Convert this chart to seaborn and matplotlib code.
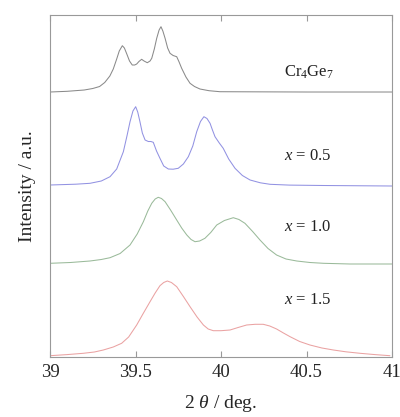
import numpy as np
import pandas as pd
import matplotlib
matplotlib.use("Agg")
import matplotlib.pyplot as plt
import seaborn as sns

# ---- data (2theta in deg, intensity above each trace's baseline, a.u.) ----
cr4ge7_x = [39.0, 39.1, 39.2, 39.25, 39.29, 39.32, 39.35, 39.37, 39.39, 39.405, 39.423, 39.435,
            39.448, 39.465, 39.481, 39.495, 39.507, 39.52, 39.536, 39.55, 39.569, 39.585, 39.595,
            39.61, 39.624, 39.638, 39.649, 39.66, 39.673, 39.688, 39.702, 39.72, 39.741, 39.755,
            39.77, 39.795, 39.819, 39.845, 39.877, 39.93, 39.994, 40.5, 41.0]
cr4ge7_y = [0.0, 0.7, 2.0, 3.5, 5.5, 9.5, 16.0, 23.0, 33.0, 41.0, 46.3, 44.0,
            38.5, 31.0, 27.0, 27.0, 28.0, 30.5, 32.7, 31.0, 29.3, 31.0, 33.7,
            43.0, 53.7, 62.0, 65.3, 61.0, 53.7, 44.0, 38.7, 36.5, 35.3, 30.0,
            23.7, 15.0, 8.7, 5.5, 3.0, 1.3, 0.3, 0.0, 0.0]

x05_x = [39.0, 39.15, 39.234, 39.3, 39.351, 39.39, 39.429, 39.45, 39.468, 39.485, 39.501, 39.513,
         39.526, 39.54, 39.556, 39.575, 39.59, 39.604, 39.623, 39.643, 39.665, 39.692, 39.72,
         39.75, 39.78, 39.809, 39.835, 39.858, 39.88, 39.90, 39.918, 39.936, 39.95, 39.965,
         39.99, 40.013, 40.045, 40.082, 40.125, 40.17, 40.23, 40.287, 40.4, 40.6, 41.0]
x05_y = [1.0, 1.8, 2.7, 5.0, 9.3, 17.0, 34.3, 50.0, 64.3, 75.0, 79.3, 74.0,
         64.3, 53.0, 46.0, 44.5, 44.5, 43.7, 35.0, 27.7, 20.0, 17.0, 16.8,
         17.7, 22.0, 29.3, 40.0, 54.3, 64.5, 69.3, 67.5, 62.7, 56.0, 49.3,
         43.0, 37.7, 27.0, 17.7, 10.5, 6.0, 3.2, 1.7, 0.9, 0.5, 0.0]

x10_x = [39.0, 39.12, 39.234, 39.3, 39.351, 39.41, 39.468, 39.51, 39.546, 39.572, 39.595, 39.615,
         39.633, 39.652, 39.673, 39.705, 39.741, 39.77, 39.80, 39.825, 39.848, 39.875, 39.906,
         39.94, 39.975, 40.02, 40.072, 40.105, 40.14, 40.185, 40.228, 40.275, 40.325, 40.38,
         40.443, 40.52, 40.6, 40.754, 41.0]
x10_y = [0.7, 1.5, 3.0, 4.5, 6.3, 10.5, 19.0, 30.0, 42.3, 53.0, 60.7, 65.0,
         66.7, 65.5, 62.3, 54.0, 44.0, 36.0, 29.0, 24.5, 22.3, 23.0, 25.7,
         31.5, 39.0, 43.5, 46.3, 44.5, 40.7, 32.5, 24.0, 15.5, 9.0, 5.0,
         3.0, 1.5, 0.7, 0.0, 0.0]

x15_x = [39.0, 39.1, 39.195, 39.26, 39.312, 39.37, 39.419, 39.46, 39.507, 39.545, 39.585, 39.615,
         39.643, 39.665, 39.686, 39.71, 39.741, 39.78, 39.819, 39.86, 39.897, 39.925, 39.955,
         40.0, 40.053, 40.1, 40.15, 40.2, 40.247, 40.285, 40.325, 40.365, 40.404, 40.46,
         40.52, 40.59, 40.657, 40.73, 40.813, 40.9, 40.988]
x15_y = [1.3, 2.4, 3.7, 5.0, 7.0, 10.0, 13.7, 20.0, 32.0, 43.5, 55.3, 64.0,
         71.3, 74.5, 76.0, 74.5, 70.3, 60.5, 50.3, 40.0, 32.0, 28.0, 26.3,
         26.3, 27.0, 29.5, 32.0, 32.7, 32.7, 31.0, 28.0, 24.0, 20.3, 15.5,
         12.0, 9.0, 7.0, 5.2, 3.7, 2.4, 1.3]

series_names = ["Cr4Ge7", "x = 0.5", "x = 1.0", "x = 1.5"]
series_labels = ["Cr$_4$Ge$_7$", "$x$ = 0.5", "$x$ = 1.0", "$x$ = 1.5"]
series_x = [cr4ge7_x, x05_x, x10_x, x15_x]
series_y = [cr4ge7_y, x05_y, x10_y, x15_y]
offsets = [265, 171, 93, 0]
label_y = [285, 201, 130, 57]
x_ticks = [39, 39.5, 40, 40.5, 41]
x_tick_labels = ["39", "39.5", "40", "40.5", "41"]

colors = ["#8a8a8a", "#9292e2", "#9aba9a", "#eaa2a2"]

# ---- build long table ----
rows = []
for name, xs, ys, off in zip(series_names, series_x, series_y, offsets):
    for xv, yv in zip(xs, ys):
        rows.append({"two_theta": xv, "intensity": yv + off, "sample": name})
df = pd.DataFrame(rows)

sns.set_style("ticks")
plt.rcParams["font.family"] = ["Liberation Serif", "DejaVu Serif"]
plt.rcParams["mathtext.fontset"] = "custom"
plt.rcParams["mathtext.rm"] = "Liberation Serif"
plt.rcParams["mathtext.it"] = "Liberation Serif:italic"
plt.rcParams["mathtext.bf"] = "Liberation Serif:bold"

fig = plt.figure(figsize=(4.0, 4.17), dpi=100)
ax = fig.add_axes([0.125, 0.1439, 0.855, 0.8201])

sns.lineplot(data=df, x="two_theta", y="intensity", hue="sample",
             palette=dict(zip(series_names, colors)), sort=False,
             estimator=None, linewidth=0.75, legend=False, ax=ax)
for ln in ax.get_lines():
    ln.set_solid_joinstyle("round")

ax.set_xlim(39, 41)
ax.set_ylim(0, 342)
ax.set_xticks(x_ticks)
ax.set_xticklabels(x_tick_labels)
ax.set_yticks([])
ax.tick_params(axis="x", direction="in", length=4, width=0.8, color="#999999",
               top=True, labelsize=13.5, pad=5)
for sp in ax.spines.values():
    sp.set_color("#999999")
    sp.set_linewidth(0.8)

for lab, ly in zip(series_labels, label_y):
    ax.text(40.37, ly, lab, fontsize=12, va="center", ha="left", color="#222222")

ax.set_xlabel("2 $\\theta$ / deg.", fontsize=14, labelpad=9)
ax.set_ylabel("Intensity / a.u.", fontsize=14, labelpad=10)

fig.savefig("out.png", dpi=100)
